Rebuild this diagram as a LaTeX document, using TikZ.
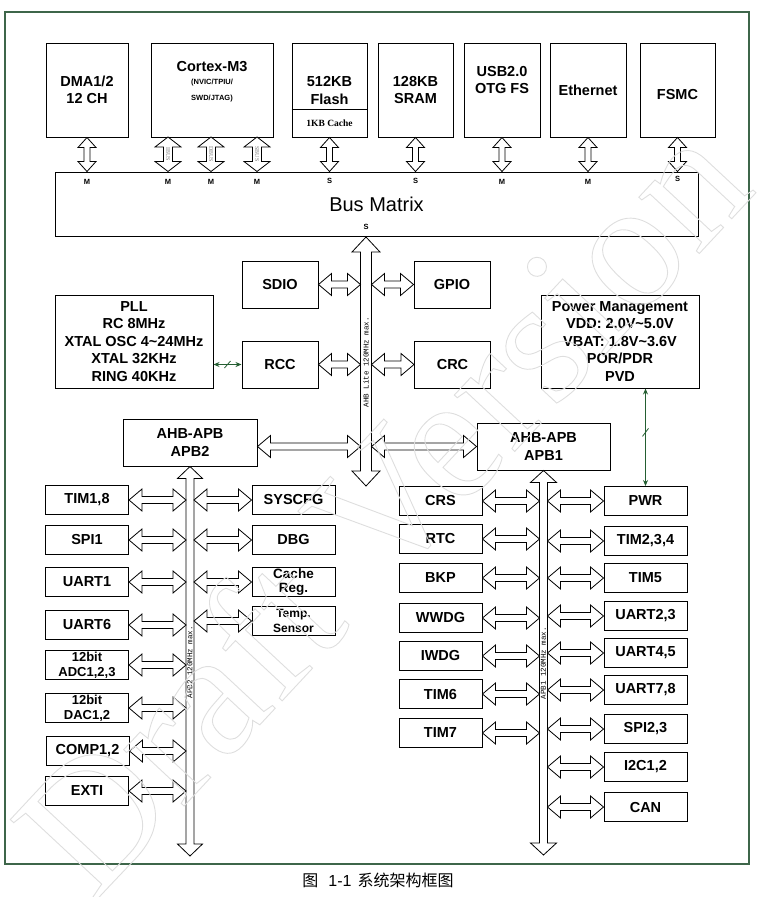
\documentclass[tikz,border=0pt]{standalone}
\usepackage{fontspec}
\setmainfont{Liberation Sans}
\newfontfamily\busfont{Liberation Mono}
\newfontfamily\serfont{Liberation Serif}
\newfontfamily\cjk{Noto Sans CJK SC}
\usepackage{tikz}
\usetikzlibrary{calc}
\usetikzlibrary{arrows.meta}

\definecolor{framegreen}{RGB}{62,102,74}
\definecolor{siggreen}{RGB}{36,94,50}

\newcommand{\hollowlink}[5]{%
  \draw[hollow] (#1) -- ($(#1)!#3!(#2)!#4!-90:(#2)$) -- ($(#1)!#3!(#2)!#5!-90:(#2)$)
    -- ($(#2)!#3!(#1)!#5!90:(#1)$) -- ($(#2)!#3!(#1)!#4!90:(#1)$) -- (#2)
    -- ($(#2)!#3!(#1)!#4!-90:(#1)$) -- ($(#2)!#3!(#1)!#5!-90:(#1)$)
    -- ($(#1)!#3!(#2)!#5!90:(#2)$) -- ($(#1)!#3!(#2)!#4!90:(#2)$) -- cycle;}
\newcommand{\pinlink}[2]{\hollowlink{#1}{#2}{10pt}{9pt}{3pt}}
\newcommand{\cpulink}[2]{\hollowlink{#1}{#2}{10pt}{13pt}{4.5pt}}
\newcommand{\perlink}[2]{\hollowlink{#1}{#2}{13pt}{11pt}{3.5pt}}
\newcommand{\outlinetext}[1]{\special{pdf:literal direct 1 Tr 0.9 w}#1\special{pdf:literal direct 0 Tr}}

\begin{document}
\begin{tikzpicture}[x=1pt,y=-1pt,
    lbl/.style={font=\bfseries\fontsize{14.5}{17.5}\selectfont,align=center,inner sep=0pt},
    blk/.style={lbl,draw,line width=1pt},
    per/.style={blk,minimum width=83,minimum height=29},
    pertwo/.style={per,font=\bfseries\fontsize{13}{15}\selectfont},
    pin/.style={font=\bfseries\fontsize{7.5}{8}\selectfont,inner sep=0pt},
    buslab/.style={font=\busfont\fontsize{7.5}{8}\selectfont,rotate=90,inner sep=0pt},
    hollow/.style={draw,fill=white,line width=0.8pt,line join=miter},
    sig/.style={draw=siggreen,line width=0.8pt,{Stealth[length=6pt,width=5pt]}-{Stealth[length=6pt,width=5pt]}}]
    \useasboundingbox (0,0) rectangle (756,897);
    \draw[framegreen,line width=1.2pt] (5,12) rectangle (749,864);

    \node[blk,minimum width=82,minimum height=94] (dma) at (87,90) {DMA1/2\\12 CH};
    \node[blk,minimum width=122,minimum height=94] (cpu) at (212,90) {};
    \node[lbl] (cputitle) at (212,67) {Cortex-M3};
    \node[lbl,font=\bfseries\fontsize{7.5}{16}\selectfont] (cpusub) at (212,91) {(NVIC/TPIU/\\SWD/JTAG)};
    \node[blk,minimum width=75,minimum height=94] (flash) at (329.5,90) {};
    \draw[line width=1pt] (flash.west |- 0,109) -- (flash.east |- 0,109);
    \node[lbl] (flashtxt) at (329.5,90.5) {512KB\\Flash};
    \node[font=\serfont\bfseries\fontsize{9.5}{11}\selectfont,inner sep=0pt] (cache) at (329.5,123) {1KB Cache};
    \node[blk,minimum width=75,minimum height=94] (sram) at (415.5,90) {128KB\\SRAM};
    \node[blk,minimum width=76,minimum height=94] (usb) at (502,90) {};
    \node[lbl] (usbtxt) at (502,80) {USB2.0\\OTG FS};
    \node[blk,minimum width=76,minimum height=94] (eth) at (588,90) {Ethernet};
    \node[blk,minimum width=75,minimum height=94] (fsmc) at (677.5,90) {};
    \node[lbl] (fsmctxt) at (677.5,95) {FSMC};

    \node[draw,line width=1pt,minimum width=643,minimum height=64,inner sep=0pt,font=\fontsize{20}{24}\selectfont] (bm) at (376.5,204) {Bus Matrix};

    \coordinate (ibus) at (168,137);
    \coordinate (dbus) at (211,137);
    \coordinate (sbus) at (257,137);
    \pinlink{dma.south}{dma.south |- bm.north}
    \cpulink{ibus}{ibus |- bm.north}
    \cpulink{dbus}{dbus |- bm.north}
    \cpulink{sbus}{sbus |- bm.north}
    \pinlink{flash.south}{flash.south |- bm.north}
    \pinlink{sram.south}{sram.south |- bm.north}
    \pinlink{usb.south}{usb.south |- bm.north}
    \pinlink{eth.south}{eth.south |- bm.north}
    \pinlink{fsmc.south}{fsmc.south |- bm.north}
    \node[font=\serfont\fontsize{6}{6}\selectfont,text=black!50,rotate=-90,inner sep=0pt] (ibuslab) at (168,154) {IBUS};
    \node[font=\serfont\fontsize{6}{6}\selectfont,text=black!50,rotate=-90,inner sep=0pt] (dbuslab) at (211,154) {DBUS};
    \node[font=\serfont\fontsize{6}{6}\selectfont,text=black!50,rotate=-90,inner sep=0pt] (sbuslab) at (257,154) {SBUS};

    \node[pin] (mdma) at (dma.south |- 0,182) {M};
    \node[pin] (mibus) at (ibus |- 0,182) {M};
    \node[pin] (mdbus) at (dbus |- 0,182) {M};
    \node[pin] (msbus) at (sbus |- 0,182) {M};
    \node[pin] (sflash) at (flash.south |- 0,181) {S};
    \node[pin] (ssram) at (sram.south |- 0,181) {S};
    \node[pin] (musb) at (usb.south |- 0,182) {M};
    \node[pin] (meth) at (eth.south |- 0,182) {M};
    \node[pin] (sfsmc) at (fsmc.south |- 0,179) {S};
    \node[pin] (sahb) at (366,227) {S};

    \node[blk,minimum width=76,minimum height=47] (sdio) at (280,284.5) {SDIO};
    \node[blk,minimum width=76,minimum height=47] (gpio) at (452,284.5) {GPIO};
    \node[blk,minimum width=76,minimum height=47] (rcc) at (280,364.5) {RCC};
    \node[blk,minimum width=76,minimum height=47] (crc) at (452.5,364.5) {CRC};
    \node[blk,minimum width=158,minimum height=93] (pll) at (134,341.5) {PLL\\RC 8MHz\\XTAL OSC 4\textasciitilde24MHz\\XTAL 32KHz\\RING 40KHz};
    \node[blk,minimum width=158,minimum height=93] (pm) at (620,341.5) {Power Management\\VDD: 2.0V\textasciitilde5.0V\\VBAT: 1.8V\textasciitilde3.6V\\POR/PDR\\PVD};
    \node[blk,minimum width=134,minimum height=47] (apbtwo) at (190,442.5) {AHB-APB\\APB2};
    \node[blk,minimum width=133,minimum height=47] (apbone) at (543.5,446.5) {AHB-APB\\APB1};

    \coordinate (ahbT) at (366,237);
    \coordinate (ahbB) at (366,486);
    \coordinate (ahbL) at (360.5,300);
    \coordinate (ahbR) at (371.5,300);
    \hollowlink{ahbT}{ahbB}{15pt}{14pt}{5.5pt}
    \node[buslab] (ahblab) at (366,362) {AHB Lite 120MHz max.};
    \perlink{sdio.east}{sdio.east -| ahbL}
    \perlink{gpio.west}{gpio.west -| ahbR}
    \perlink{rcc.east}{rcc.east -| ahbL}
    \perlink{crc.west}{crc.west -| ahbR}
    \perlink{apbtwo.east |- apbone.west}{apbone.west -| ahbL}
    \perlink{apbone.west}{apbone.west -| ahbR}

    \draw[sig] (pll.east |- rcc.west) -- (rcc.west);
    \draw[siggreen,line width=0.8pt] ($(pll.east |- rcc.west)!0.5!(rcc.west)+(-3,3.5)$) -- +(6,-7);

    \node[per] (timoneeight) at (87,500) {TIM1,8};
    \node[per] (spione) at (87,540) {SPI1};
    \node[per] (uartone) at (87,582) {UART1};
    \node[per] (uartsix) at (87,625) {UART6};
    \node[pertwo] (adc) at (87,665) {12bit\\ADC1,2,3};
    \node[pertwo] (dac) at (87,708) {12bit\\DAC1,2};
    \node[per] (comp) at (87.5,751) {COMP1,2};
    \node[per] (exti) at (87,791) {EXTI};
    \node[per] (syscfg) at (293.5,500) {SYSCFG};
    \node[per] (dbg) at (293.5,540) {DBG};
    \node[per,font=\bfseries\fontsize{13.5}{14}\selectfont] (cachereg) at (293.5,582) {Cache\\Reg.};
    \node[per,font=\bfseries\fontsize{12}{15}\selectfont] (temp) at (293.5,621) {Temp.\\Sensor};

    \coordinate (apbtwoB) at (190,856);
    \coordinate (apbtwoL) at (186,600);
    \coordinate (apbtwoR) at (194,600);
    \hollowlink{apbtwo.south}{apbtwoB}{12pt}{12.5pt}{4pt}
    \node[buslab] (apbtwolab) at (190,662) {APB2 120MHz max.};
    \perlink{timoneeight.east}{timoneeight.east -| apbtwoL}
    \perlink{spione.east}{spione.east -| apbtwoL}
    \perlink{uartone.east}{uartone.east -| apbtwoL}
    \perlink{uartsix.east}{uartsix.east -| apbtwoL}
    \perlink{adc.east}{adc.east -| apbtwoL}
    \perlink{dac.east}{dac.east -| apbtwoL}
    \perlink{comp.east}{comp.east -| apbtwoL}
    \perlink{exti.east}{exti.east -| apbtwoL}
    \perlink{syscfg.west}{syscfg.west -| apbtwoR}
    \perlink{dbg.west}{dbg.west -| apbtwoR}
    \perlink{cachereg.west}{cachereg.west -| apbtwoR}
    \perlink{temp.west}{temp.west -| apbtwoR}

    \node[per] (crs) at (440.5,501) {CRS};
    \node[per] (rtc) at (440.5,539) {RTC};
    \node[per] (bkp) at (440.5,578) {BKP};
    \node[per] (wwdg) at (440.5,618) {WWDG};
    \node[per] (iwdg) at (440.5,656) {IWDG};
    \node[per] (timsix) at (440.5,694) {TIM6};
    \node[per] (timseven) at (440.5,733) {TIM7};
    \node[per] (pwr) at (645.5,501) {PWR};
    \node[per] (timtwo) at (645.5,541) {TIM2,3,4};
    \node[per] (timfive) at (645.5,578) {TIM5};
    \node[per] (uarttwo) at (645.5,616) {UART2,3};
    \node[per] (uartfour) at (645.5,653) {UART4,5};
    \node[per] (uartseven) at (645.5,690) {UART7,8};
    \node[per] (spitwo) at (645.5,729) {SPI2,3};
    \node[per] (ictwo) at (645.5,767) {I2C1,2};
    \node[per] (can) at (645.5,807) {CAN};

    \coordinate (apboneB) at (543.5,855);
    \coordinate (apboneL) at (539.5,600);
    \coordinate (apboneR) at (547.5,600);
    \hollowlink{apbone.south}{apboneB}{12pt}{13pt}{4pt}
    \node[buslab] (apbonelab) at (543.5,663) {APB1 120MHz max.};
    \perlink{crs.east}{crs.east -| apboneL}
    \perlink{rtc.east}{rtc.east -| apboneL}
    \perlink{bkp.east}{bkp.east -| apboneL}
    \perlink{wwdg.east}{wwdg.east -| apboneL}
    \perlink{iwdg.east}{iwdg.east -| apboneL}
    \perlink{timsix.east}{timsix.east -| apboneL}
    \perlink{timseven.east}{timseven.east -| apboneL}
    \perlink{pwr.west}{pwr.west -| apboneR}
    \perlink{timtwo.west}{timtwo.west -| apboneR}
    \perlink{timfive.west}{timfive.west -| apboneR}
    \perlink{uarttwo.west}{uarttwo.west -| apboneR}
    \perlink{uartfour.west}{uartfour.west -| apboneR}
    \perlink{uartseven.west}{uartseven.west -| apboneR}
    \perlink{spitwo.west}{spitwo.west -| apboneR}
    \perlink{ictwo.west}{ictwo.west -| apboneR}
    \perlink{can.west}{can.west -| apboneR}

    \draw[sig] (pwr.north |- pm.south) -- (pwr.north);
    \draw[siggreen,line width=0.8pt] ($(pwr.north |- pm.south)!0.45!(pwr.north)+(-3,4)$) -- +(6,-8);

    \node[font=\fontsize{16}{18}\selectfont,inner sep=0pt] (caption) at (378,880) {{\cjk 图}\hspace{10pt}1-1\hspace{6pt}{\cjk 系统架构框图}};

    \node[font=\serfont\fontsize{180}{180}\selectfont,text=black!13,rotate=47,inner sep=0pt] (draft) at (380,505) {\outlinetext{Draft Version}};
\end{tikzpicture}
\end{document}
